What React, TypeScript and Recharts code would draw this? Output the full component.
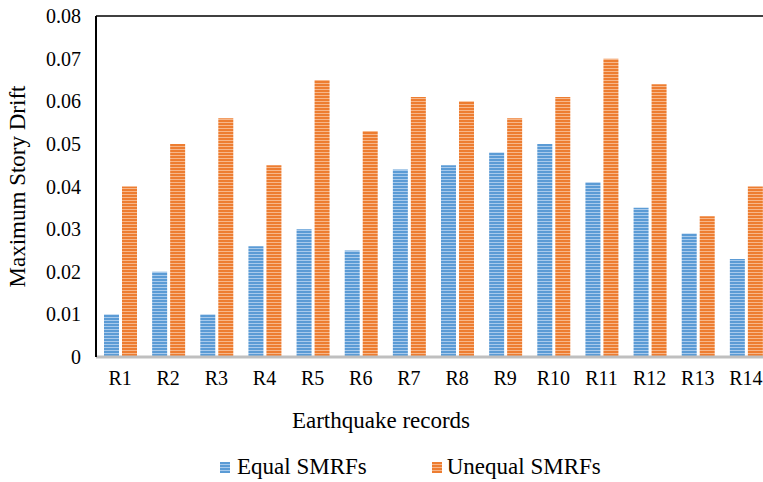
import React from "react";
import { BarChart, Bar, XAxis, YAxis, Legend, ReferenceLine } from "recharts";

const records = ["R1", "R2", "R3", "R4", "R5", "R6", "R7", "R8", "R9", "R10", "R11", "R12", "R13", "R14"];
const equalSMRFs = [0.01, 0.02, 0.01, 0.026, 0.03, 0.025, 0.044, 0.045, 0.048, 0.05, 0.041, 0.035, 0.029, 0.023];
const unequalSMRFs = [0.04, 0.05, 0.056, 0.045, 0.065, 0.053, 0.061, 0.06, 0.056, 0.061, 0.07, 0.064, 0.033, 0.04];
const yTicks = [0, 0.01, 0.02, 0.03, 0.04, 0.05, 0.06, 0.07, 0.08];

const data = records.map((r, i) => ({ name: r, equal: equalSMRFs[i], unequal: unequalSMRFs[i] }));

const FONT = '"Liberation Serif", "Times New Roman", serif';
const BLUE = "#5B9BD5";
const BLUE_L = "#A8CAEC";
const ORANGE = "#ED7D31";
const ORANGE_L = "#F7B78A";

const stripe = (c: string, l: string) =>
  `repeating-linear-gradient(to bottom, ${c} 0px, ${c} 2px, ${l} 2px, ${l} 3px)`;

const LegendContent = () => (
  <div
    style={{
      height: 30,
      display: "flex",
      alignItems: "center",
      paddingLeft: 220,
      fontFamily: FONT,
      fontSize: 23,
      color: "#000",
    }}
  >
    <span style={{ width: 10, height: 11, background: stripe(BLUE, BLUE_L), display: "inline-block", marginRight: 7 }} />
    <span>Equal SMRFs</span>
    <span style={{ width: 10, height: 11, background: stripe(ORANGE, ORANGE_L), display: "inline-block", marginLeft: 65, marginRight: 5 }} />
    <span>Unequal SMRFs</span>
  </div>
);

const YTitle = (props: any) => {
  const vb = props.viewBox || { x: 0, y: 16, width: 96, height: 341 };
  const cx = vb.x + 25;
  const cy = vb.y + vb.height / 2;
  return (
    <text
      x={cx}
      y={cy}
      transform={`rotate(-90, ${cx}, ${cy})`}
      textAnchor="middle"
      fontFamily={FONT}
      fontSize={23}
      fill="#000"
    >
      Maximum Story Drift
    </text>
  );
};

const XTitle = (props: any) => {
  const vb = props.viewBox || { x: 96, y: 357, width: 674, height: 95 };
  return (
    <text x={vb.x + 285} y={vb.y + 71} textAnchor="middle" fontFamily={FONT} fontSize={23} fill="#000">
      Earthquake records
    </text>
  );
};

export default function App() {
  return (
    <div style={{ position: "fixed", left: 0, top: 0, width: 763, height: 482, overflow: "hidden", background: "#fff" }}>
      <BarChart
        width={770}
        height={482}
        data={data}
        margin={{ top: 16, right: 0, bottom: 0, left: 0 }}
        barSize={15}
        barGap={3}
      >
        <defs>
          <pattern id="pBlue" width="4" height="3" patternUnits="userSpaceOnUse">
            <rect width="4" height="3" fill={BLUE_L} />
            <rect width="4" height="2" fill={BLUE} />
          </pattern>
          <pattern id="pOrange" width="4" height="3" patternUnits="userSpaceOnUse">
            <rect width="4" height="3" fill={ORANGE_L} />
            <rect width="4" height="2" fill={ORANGE} />
          </pattern>
        </defs>
        <XAxis
          dataKey="name"
          height={95}
          tickLine={false}
          tickSize={0}
          tickMargin={14}
          axisLine={{ stroke: "#BFBFBF", strokeWidth: 3 }}
          tick={{ fill: "#000", fontFamily: FONT, fontSize: 20 }}
          interval={0}
          label={<XTitle />}
        />
        <YAxis
          width={96}
          domain={[0, 0.08]}
          ticks={yTicks}
          tickLine={false}
          tickSize={0}
          tickMargin={15}
          axisLine={{ stroke: "#000", strokeWidth: 2 }}
          tick={{ fill: "#000", fontFamily: FONT, fontSize: 20 }}
          tickFormatter={(v: number) => (v === 0 ? "0" : v.toFixed(2))}
          label={<YTitle />}
        />
        <ReferenceLine y={0.08} stroke="#000" strokeWidth={1.5} />
        <Legend verticalAlign="bottom" wrapperStyle={{ left: 0, width: 770 }} content={<LegendContent />} />
        <Bar dataKey="equal" name="Equal SMRFs" fill="url(#pBlue)" isAnimationActive={false} />
        <Bar dataKey="unequal" name="Unequal SMRFs" fill="url(#pOrange)" isAnimationActive={false} />
      </BarChart>
    </div>
  );
}
